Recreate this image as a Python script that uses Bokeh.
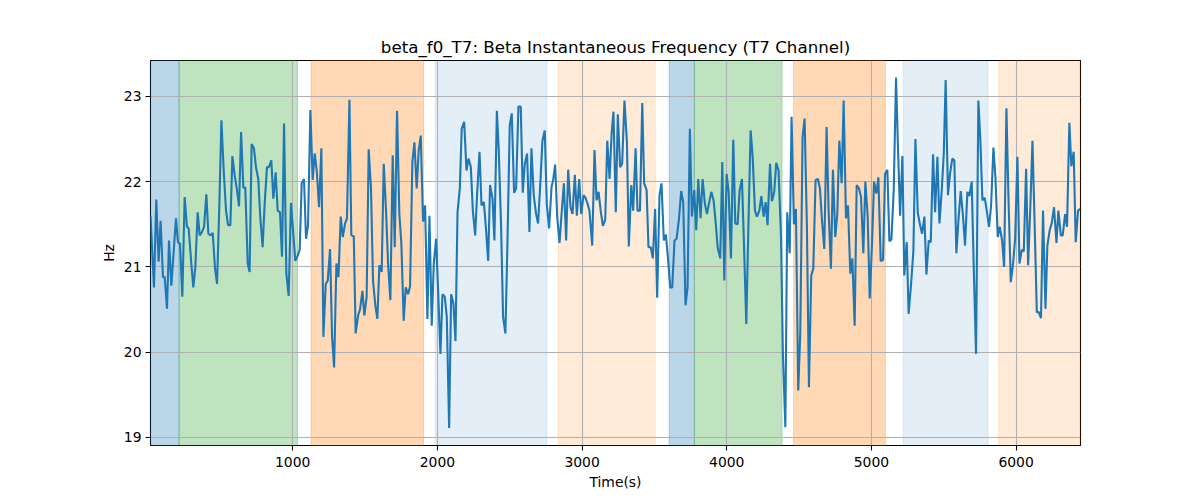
from bokeh.plotting import figure
from bokeh.models import Range1d, FixedTicker, BoxAnnotation
from bokeh.embed import file_html
from bokeh.resources import INLINE

# ---- data ----
time_s = [
    17, 41, 57, 73, 87, 103, 115, 131, 145, 161, 177, 193, 207, 221, 237, 253, 269, 281, 299, 313,
    327, 343, 357, 373, 387, 403, 417, 433, 447, 463, 477, 493, 507, 523, 539, 553, 569, 583, 599, 613,
    629, 643, 659, 672, 689, 702, 716, 732, 746, 762, 776, 792, 806, 822, 836, 852, 866, 882, 896, 912,
    926, 940,
    956, 972, 988, 1002, 1018, 1034, 1048, 1062, 1078, 1092, 1106, 1122, 1138, 1152, 1166, 1182, 1198, 1212,
    1228, 1242, 1258, 1272, 1286, 1302, 1316, 1332, 1346, 1362, 1375, 1392, 1405, 1422, 1435, 1452, 1465,
    1482, 1495, 1511, 1525, 1541, 1555, 1571, 1585, 1599, 1615, 1629, 1645, 1659, 1675, 1691, 1705, 1721,
    1737, 1751, 1767, 1781, 1797, 1811, 1827, 1841, 1857,
    1871, 1885, 1901, 1915, 1931, 1945, 1961, 1975, 1991, 2005, 2021, 2035, 2051, 2065, 2081, 2095, 2111,
    2125, 2139, 2155, 2168, 2185, 2201, 2215, 2231, 2245, 2261, 2274, 2291, 2305, 2321, 2334, 2351, 2364,
    2381, 2394, 2411, 2424, 2440, 2454, 2470, 2484, 2500, 2514, 2530, 2544, 2560, 2576, 2590, 2604, 2620,
    2636, 2650, 2666, 2682, 2696, 2712, 2726, 2742, 2756, 2772, 2789,
    2800, 2814, 2828, 2844, 2860, 2874, 2890, 2904, 2920, 2934, 2950, 2964, 2980, 2994, 3010, 3024, 3038,
    3051, 3070, 3086, 3100, 3114, 3130, 3144, 3160, 3174, 3190, 3204, 3217, 3233, 3247, 3263, 3277, 3293,
    3310, 3323, 3340, 3353, 3370, 3383, 3400, 3416, 3429, 3446, 3459, 3475, 3489, 3505, 3519, 3535, 3549,
    3565, 3579, 3595, 3609, 3623, 3639, 3653, 3669, 3685, 3699, 3715,
    3729, 3745, 3759, 3775, 3789, 3803, 3819, 3833, 3849, 3863, 3879, 3893, 3909, 3923, 3937, 3955, 3969,
    3983, 3999, 4013, 4029, 4045, 4059, 4075, 4089, 4105, 4119, 4135, 4149, 4165, 4179, 4195, 4209, 4225,
    4239, 4255, 4269, 4282, 4299, 4312, 4328, 4342, 4358, 4375, 4388, 4405, 4418, 4435, 4448, 4464, 4478,
    4494, 4508, 4524, 4538, 4554, 4568, 4584, 4598, 4614, 4630, 4644,
    4658, 4674, 4690, 4704, 4720, 4734, 4750, 4764, 4778, 4794, 4808, 4824, 4838, 4854, 4868, 4884, 4898,
    4914, 4928, 4944, 4958, 4974, 4988, 5004, 5018, 5034, 5048, 5064, 5080, 5094, 5110, 5124, 5138, 5154,
    5170, 5184, 5198, 5214, 5227, 5244, 5257, 5274, 5290, 5304, 5320, 5336, 5350, 5366, 5380, 5396, 5410,
    5426, 5440, 5456, 5470, 5486, 5500, 5513, 5529, 5543, 5559,
    5573, 5587, 5603, 5617, 5633, 5647, 5663, 5677, 5693, 5707, 5723, 5739, 5753, 5767, 5783, 5797, 5813,
    5827, 5843, 5857, 5873, 5887, 5903, 5917, 5933, 5947, 5963, 5979, 5993, 6009, 6023, 6039, 6053, 6069,
    6083, 6099, 6113, 6129, 6143, 6156, 6172, 6186, 6203, 6216, 6232, 6246, 6262, 6279, 6292, 6309, 6322,
    6339, 6352, 6368, 6382, 6398, 6412, 6428, 6442,
]

freq_hz = [
    21.60, 20.76, 21.79, 21.06, 21.54, 20.88, 20.88, 20.51, 21.31, 20.78, 21.17, 21.57, 21.29, 21.27, 20.65,
    21.82, 21.47, 21.45, 21.04, 20.76, 21.00, 21.64, 21.37, 21.41, 21.47, 21.85, 21.39, 21.37, 21.40, 20.98,
    20.80, 21.74, 22.72, 22.13, 21.66, 21.49, 21.49, 22.30, 22.07, 21.92, 21.71, 22.58, 21.93, 21.93, 21.04,
    20.94, 22.44, 22.39, 22.17, 22.03, 21.58, 21.23, 21.74, 22.17, 22.17, 22.25, 21.80, 22.11, 21.66, 21.64,
    21.12, 22.68,
    20.92, 20.66, 21.75, 21.43, 21.07, 21.13, 21.20, 21.98, 22.03, 21.33, 21.49, 22.84, 22.02, 22.33, 22.13,
    21.70, 22.39, 20.18, 20.80, 20.84, 21.21, 20.18, 19.82, 21.04, 20.88, 21.59, 21.35, 21.51, 21.57, 22.96,
    21.37, 21.36, 20.22, 20.43, 20.50, 20.72, 20.43, 20.65, 22.38, 21.92, 20.84, 20.55, 20.39, 21.02, 20.94,
    22.21, 21.66, 21.04, 20.61, 22.31, 21.23, 22.83, 21.62, 21.27, 20.37, 20.76, 20.68, 20.77, 22.23, 22.46,
    21.92,
    22.37, 22.54, 21.53, 21.72, 20.39, 21.60, 20.31, 21.04, 21.33, 20.72, 19.98, 20.68, 20.65, 20.41, 19.11,
    20.68, 20.57, 20.13, 21.64, 21.92, 22.62, 22.70, 22.13, 22.27, 22.17, 21.66, 21.37, 21.84, 22.35, 21.72,
    21.76, 21.49, 21.07, 21.96, 21.80, 21.31, 22.83, 22.37, 21.49, 20.41, 20.22, 21.27, 22.66, 22.80, 21.87,
    21.92, 22.88, 22.88, 21.87, 22.21, 22.33, 21.41, 22.39, 21.84, 21.62, 21.51, 22.00, 22.48, 22.60, 21.74,
    21.45, 21.94,
    22.02, 22.20, 21.59, 21.28, 21.66, 21.98, 21.31, 22.14, 21.70, 21.62, 22.08, 21.60, 22.03, 21.62, 21.84,
    21.81, 21.74, 21.66, 21.25, 22.37, 21.78, 21.88, 21.64, 21.48, 21.55, 22.48, 22.03, 22.56, 22.82, 21.64,
    22.79, 22.17, 22.21, 22.95, 22.46, 21.24, 21.96, 21.66, 22.39, 21.66, 21.66, 22.92, 21.98, 21.90, 21.23,
    21.23, 21.10, 21.68, 20.64, 21.84, 21.98, 21.31, 21.38, 21.08, 20.76, 20.76, 21.31, 21.33, 21.55, 21.89,
    21.76, 20.55,
    20.76, 22.62, 21.59, 21.90, 21.43, 22.03, 21.57, 22.03, 21.74, 21.62, 21.76, 21.88, 21.78, 21.53, 21.23,
    21.10, 22.23, 20.84, 22.09, 21.88, 21.10, 22.49, 21.51, 21.50, 21.90, 22.03, 21.27, 20.33, 21.43, 22.60,
    22.29, 21.66, 21.59, 21.66, 21.83, 21.59, 21.76, 21.49, 22.21, 21.77, 21.88, 22.22, 22.13, 21.35, 19.98,
    19.12, 21.64, 21.16, 22.76, 21.50, 21.68, 19.55, 20.22, 22.52, 22.74, 21.47, 19.59, 20.90, 20.98, 22.02,
    22.03, 21.92,
    21.55, 21.21, 22.64, 21.66, 20.98, 22.14, 21.35, 21.62, 22.48, 21.98, 22.95, 21.57, 21.72, 20.92, 21.10,
    20.31, 21.96, 21.92, 21.82, 21.16, 22.00, 21.59, 20.63, 21.27, 22.00, 21.86, 22.05, 21.07, 21.08, 22.09,
    22.14, 21.30, 21.32, 21.90, 23.22, 22.37, 21.60, 22.30, 20.90, 21.29, 20.45, 20.80, 21.19, 22.50, 21.64,
    21.49, 21.39, 21.59, 20.91, 21.31, 21.29, 22.32, 21.64, 22.29, 21.51, 21.90, 22.33, 23.19, 21.84, 22.09,
    22.27,
    22.25, 21.16, 21.59, 21.89, 21.59, 21.25, 21.88, 21.83, 22.00, 21.00, 19.98, 22.95, 22.48, 21.78, 21.81,
    21.66, 21.47, 21.72, 22.40, 22.05, 21.35, 21.47, 21.31, 21.00, 22.86, 21.82, 20.82, 21.04, 21.33, 22.29,
    21.04, 21.20, 21.18, 22.15, 21.02, 21.74, 22.48, 21.43, 20.47, 20.47, 20.40, 21.66, 20.51, 21.25, 21.43,
    21.51, 21.70, 21.28, 21.66, 21.37, 21.37, 21.62, 21.47, 22.69, 22.18, 22.35, 21.29, 21.66, 21.68,
]

seg_start = [17, 215, 1127, 1985, 2835, 3602, 3776, 4462, 5220, 5880]
seg_end = [215, 1033, 1905, 2757, 3505, 3776, 4382, 5096, 5806, 6445]
seg_kind = ["blue", "green", "orange", "pale_blue", "pale_orange",
            "blue", "green", "orange", "pale_blue", "pale_orange"]

x_ticks = [1000, 2000, 3000, 4000, 5000, 6000]
y_ticks = [19, 20, 21, 22, 23]

# ---- styles ----
kind_style = {
    "blue": ("#1f77b4", 0.3),
    "green": ("#2ca02c", 0.3),
    "orange": ("#ff7f0e", 0.3),
    "pale_blue": ("#1f77b4", 0.12),
    "pale_orange": ("#ff7f0e", 0.16),
}
FONT = "DejaVu Sans"

p = figure(
    frame_width=930, frame_height=385,
    min_border_left=150, min_border_right=112, min_border_top=60, min_border_bottom=50,
    x_range=Range1d(17, 6445), y_range=Range1d(18.906, 23.42),
    output_backend="svg", toolbar_location=None,
    title="beta_f0_T7: Beta Instantaneous Frequency (T7 Channel)",
)
p.title.align = "center"
p.title.text_font = FONT
p.title.text_font_size = "16.7px"
p.title.text_font_style = "normal"
p.title.text_color = "black"
p.title.standoff = 8

p.outline_line_color = "black"
p.outline_line_width = 1.1
p.outline_line_alpha = 1.0
p.background_fill_color = "white"
p.border_fill_color = "white"

for ax in (p.xaxis[0], p.yaxis[0]):
    ax.major_label_text_font = FONT
    ax.major_label_text_font_size = "13.9px"
    ax.major_label_text_color = "black"
    ax.axis_label_text_font = FONT
    ax.axis_label_text_font_size = "13.9px"
    ax.axis_label_text_font_style = "normal"
    ax.axis_label_text_color = "black"
    ax.major_tick_out = 5
    ax.major_tick_in = 0
    ax.minor_tick_out = 0
    ax.minor_tick_in = 0
    ax.axis_line_color = None
    ax.major_tick_line_color = "black"
    ax.major_tick_line_width = 1.1

p.xaxis.ticker = FixedTicker(ticks=x_ticks)
p.yaxis.ticker = FixedTicker(ticks=y_ticks)
p.xaxis.axis_label = "Time(s)"
p.yaxis.axis_label = "Hz"
p.xaxis.major_label_standoff = 6
p.xaxis.axis_label_standoff = 4
p.yaxis.major_label_standoff = 4
p.yaxis.axis_label_standoff = 4

p.xgrid.grid_line_color = "#b0b0b0"
p.ygrid.grid_line_color = "#b0b0b0"
p.xgrid.grid_line_width = 1.1
p.ygrid.grid_line_width = 1.1

boxes = []
for s, e, k in zip(seg_start, seg_end, seg_kind):
    col, a = kind_style[k]
    boxes.append(BoxAnnotation(left=s, right=e, fill_color=col, fill_alpha=a,
                               line_color=col, line_alpha=a, line_width=1,
                               level="underlay", propagate_hover=False))
grids = list(p.center)
p.center = boxes + grids

p.line(time_s, freq_hz, line_color="#1f77b4", line_width=2.1)

open("out.html", "w").write(file_html(p, INLINE))
